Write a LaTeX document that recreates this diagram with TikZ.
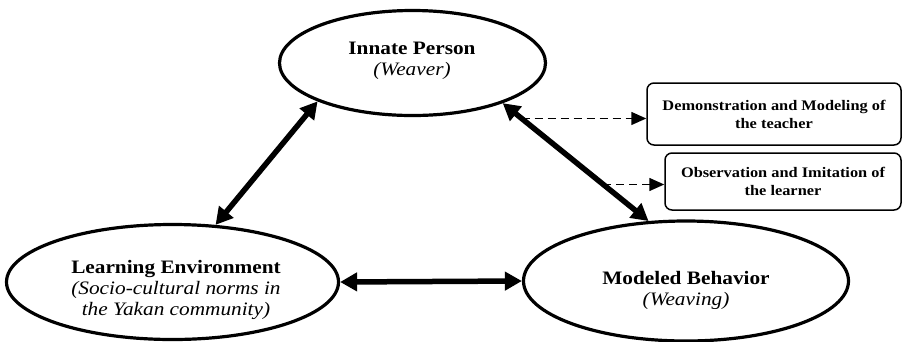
\documentclass[tikz,border=0pt]{standalone}
\usepackage{fontspec}
\setmainfont[FakeStretch=1.12]{Liberation Serif}
\usetikzlibrary{shapes.geometric,arrows.meta}
\begin{document}
\begin{tikzpicture}[x=1pt,y=-1pt,
  ell/.style={draw,ellipse,line width=3.2pt,inner sep=0pt},
  lbl/.style={align=center,inner sep=0pt,font=\fontsize{19}{20.7}\selectfont},
  boxnode/.style={draw,rounded corners=7pt,line width=1.5pt,align=center,inner sep=0pt,font=\fontsize{14.6}{18}\selectfont\bfseries},
  bigarrow/.style={line width=5.5pt,{Triangle[length=17pt,width=18pt]}-{Triangle[length=17pt,width=18pt]}},
  dasharrow/.style={line width=1.5pt,dash pattern=on 8pt off 5pt,-{Triangle[length=15pt,width=13pt]}}]
\useasboundingbox (0,0) rectangle (902,341);
% ellipses
\node[ell,minimum width=266pt,minimum height=105pt] (top) at (412.5,63) {};
\node[ell,minimum width=332pt,minimum height=115pt] (left) at (172.5,282) {};
\node[ell,minimum width=325pt,minimum height=120pt] (right) at (686,281) {};
% texts
\node[lbl] (toptxt) at (412,60.5) {\textbf{Innate Person}\\\textit{(Weaver)}};
\node[lbl] (lefttxt) at (176,290) {\textbf{Learning Environment}\\\textit{(Socio-cultural norms in}\\\textit{the Yakan community)}};
\node[lbl] (righttxt) at (686,290.5) {\textbf{Modeled Behavior}\\\textit{(Weaving)}};
% boxes
\node[boxnode,minimum width=254pt,minimum height=62pt] (box1) at (774,114) {Demonstration and Modeling of\\the teacher};
\node[boxnode,minimum width=236pt,minimum height=57pt] (box2) at (783,181.5) {Observation and Imitation of\\the learner};
% arrows
\draw[bigarrow] (left.53) -- (top.202);
\draw[bigarrow] (top.-24) -- coordinate[pos=0.13] (d1) coordinate[pos=0.69] (d2) (right.122.6);
\draw[bigarrow] (left.east) -- (right.west);
\draw[dasharrow] (d1) -- (d1 -| box1.west);
\draw[dasharrow] (d2) -- (d2 -| box2.west);
\end{tikzpicture}
\end{document}
